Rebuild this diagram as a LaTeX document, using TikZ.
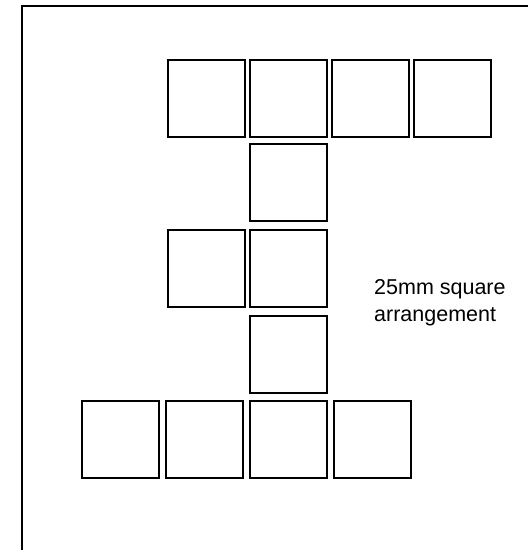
\documentclass[tikz,border=0pt]{standalone}
\usepackage{fontspec}
\setmainfont{Liberation Sans}
\usepackage{tikz}

\tikzset{tile/.style={draw, line width=2pt, minimum size=77pt, inner sep=0pt}}

\begin{document}
\begin{tikzpicture}[x=1pt,y=-1pt]
	\useasboundingbox (0,0) rectangle (528,550);
	\coordinate (frameA) at (22,550);
	\coordinate (frameB) at (22,6);
	\coordinate (frameC) at (528,6);
	\draw[line width=2pt] (frameA) -- (frameB) -- (frameC);
	% top bar
	\node[tile] (t1) at (206,98.5) {};
	\node[tile] (t2) at (288,98.5) {};
	\node[tile] (t3) at (370,98.5) {};
	\node[tile] (t4) at (452,98.5) {};
	% stem
	\node[tile] (s1) at (288,182.5) {};
	\node[tile] (s2) at (206,268.5) {};
	\node[tile] (s3) at (288,268.5) {};
	\node[tile] (s4) at (288,354.5) {};
	% bottom bar
	\node[tile] (b1) at (120,439.5) {};
	\node[tile] (b2) at (204,439.5) {};
	\node[tile] (b3) at (288,439.5) {};
	\node[tile] (b4) at (372,439.5) {};
	\node[anchor=base west, align=left, inner sep=0pt, font=\fontsize{21.5}{27}\selectfont] (note) at (374,321.5) {25mm square\\arrangement};
\end{tikzpicture}
\end{document}
